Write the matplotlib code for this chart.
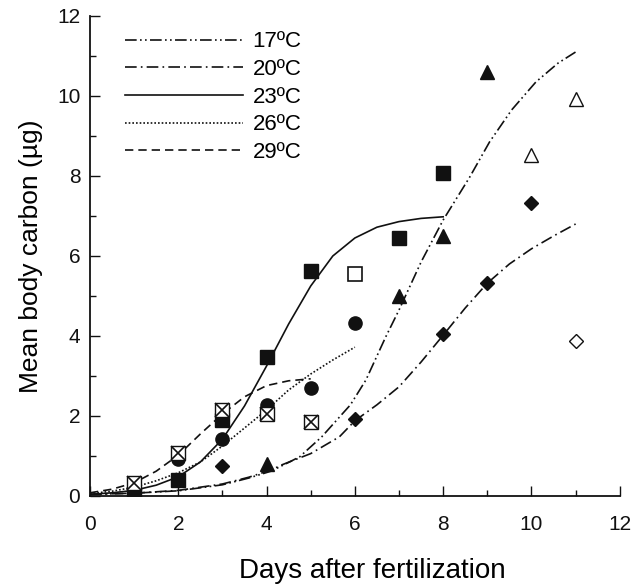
import matplotlib
matplotlib.use("Agg")
import matplotlib.pyplot as plt
from matplotlib.ticker import MultipleLocator

plt.rcParams['font.family'] = ['Liberation Sans', 'DejaVu Sans']

# ---- data ----
# observed points: filled and open markers per temperature
d17_days = [1, 4, 7, 8, 9]
d17_vals = [0.03, 0.80, 5.0, 6.5, 10.6]
d17_open_days = [10, 11]
d17_open_vals = [8.53, 9.92]

d20_days = [1, 3, 6, 8, 9, 10]
d20_vals = [0.03, 0.75, 1.92, 4.05, 5.33, 7.33]
d20_open_days = [11]
d20_open_vals = [3.88]

d23_days = [1, 2, 3, 4, 5, 7, 8]
d23_vals = [0.05, 0.40, 1.90, 3.48, 5.62, 6.45, 8.07]
d23_open_days = [6]
d23_open_vals = [5.55]

d26_days = [1, 2, 3, 4, 5, 6]
d26_vals = [0.15, 0.92, 1.42, 2.28, 2.70, 4.33]

d29_days = [1, 2, 3, 4, 5]
d29_vals = [0.33, 1.08, 2.15, 2.05, 1.85]

# fitted curves
c17_x = [0, 1, 2, 3, 3.6, 4.1, 4.3, 4.75, 5.25, 5.9, 6.25, 6.7, 7.0, 7.5, 8.0, 8.6, 9.05, 9.55, 10.1, 10.6, 11.0]
c17_y = [0.04, 0.07, 0.13, 0.28, 0.45, 0.62, 0.73, 0.98, 1.48, 2.28, 2.9, 3.98, 4.65, 5.85, 6.9, 7.97, 8.85, 9.65, 10.35, 10.82, 11.1]

c20_x = [0, 1, 2, 3, 3.6, 4.1, 4.35, 5.0, 5.65, 6.0, 6.5, 7.0, 7.5, 8.0, 8.5, 9.0, 9.5, 10.0, 10.5, 11.0]
c20_y = [0.04, 0.07, 0.14, 0.30, 0.47, 0.65, 0.78, 1.06, 1.48, 1.88, 2.28, 2.73, 3.35, 4.02, 4.7, 5.32, 5.8, 6.18, 6.5, 6.8]

c23_x = [0, 0.5, 1, 1.5, 2, 2.5, 3, 3.5, 4, 4.5, 5, 5.5, 6, 6.5, 7, 7.5, 8]
c23_y = [0.04, 0.08, 0.14, 0.27, 0.48, 0.85, 1.42, 2.25, 3.25, 4.3, 5.25, 6.0, 6.45, 6.72, 6.86, 6.94, 6.98]

c26_x = [0, 0.5, 1, 1.5, 2, 2.5, 3, 3.5, 4, 4.5, 5, 5.5, 6]
c26_y = [0.06, 0.12, 0.22, 0.38, 0.58, 0.85, 1.25, 1.70, 2.15, 2.65, 3.05, 3.40, 3.72]

c29_x = [0, 0.5, 1, 1.5, 2, 2.5, 3, 3.5, 4, 4.5, 5]
c29_y = [0.08, 0.17, 0.33, 0.62, 1.02, 1.55, 2.05, 2.48, 2.76, 2.88, 2.93]

legend_labels = ['17ºC', '20ºC', '23ºC', '26ºC', '29ºC']

# ---- figure ----
fig = plt.figure(figsize=(6.35, 5.86), dpi=100)
ax = fig.add_axes([0.1417, 0.1536, 0.8343, 0.8191])

k = '#111111'
lw = 1.2
ls17 = (0, (7, 2, 1, 2, 1, 2))
ls20 = (0, (7, 2.5, 1, 2.5))
ls26 = (0, (1, 1.2))
ls29 = (0, (5, 3))

l17, = ax.plot(c17_x, c17_y, color=k, lw=lw, linestyle=ls17)
l20, = ax.plot(c20_x, c20_y, color=k, lw=lw, linestyle=ls20)
l23, = ax.plot(c23_x, c23_y, color=k, lw=lw, linestyle='-')
l26, = ax.plot(c26_x, c26_y, color=k, lw=lw, linestyle=ls26)
l29, = ax.plot(c29_x, c29_y, color=k, lw=lw, linestyle=ls29)

ms = 10
ax.plot(d17_days, d17_vals, '^', color=k, ms=ms, ls='none', zorder=3)
ax.plot(d17_open_days, d17_open_vals, '^', mfc='white', mec=k, mew=1.0, ms=ms, ls='none', zorder=3)
ax.plot(d20_days, d20_vals, 'D', color=k, ms=7.5, ls='none', zorder=3)
ax.plot(d20_open_days, d20_open_vals, 'D', mfc='white', mec=k, mew=1.0, ms=7.5, ls='none', zorder=3)
ax.plot(d23_days, d23_vals, 's', color=k, ms=9.5, ls='none', zorder=3)
ax.plot(d23_open_days, d23_open_vals, 's', mfc='white', mec=k, mew=1.2, ms=9.5, ls='none', zorder=3)
ax.plot(d26_days, d26_vals, 'o', color=k, ms=9.5, ls='none', zorder=3)
ax.plot(d29_days, d29_vals, 's', mfc='white', mec=k, mew=1.0, ms=9.5, ls='none', zorder=4)
ax.plot(d29_days, d29_vals, 'x', color=k, mew=1.2, ms=9.5, ls='none', zorder=5)

ax.legend([l17, l20, l23, l26, l29], legend_labels, loc='upper left',
          bbox_to_anchor=(0.066, 0.968), frameon=False, fontsize=16,
          borderpad=0, borderaxespad=0,
          handlelength=5.3, handletextpad=0.45, labelspacing=0.3)

ax.set_xlim(0, 12)
ax.set_ylim(0, 12)
ax.xaxis.set_major_locator(MultipleLocator(2))
ax.xaxis.set_minor_locator(MultipleLocator(1))
ax.yaxis.set_major_locator(MultipleLocator(2))
ax.yaxis.set_minor_locator(MultipleLocator(1))
ax.tick_params(which='both', direction='in', colors=k, labelsize=15, width=1)
ax.tick_params(which='major', length=7)
ax.tick_params(which='minor', length=4)
ax.tick_params(axis='x', pad=14)
ax.tick_params(axis='y', pad=7)
for s in ['top', 'right']:
    ax.spines[s].set_visible(False)
for s in ['left', 'bottom']:
    ax.spines[s].set_linewidth(1.3)
    ax.spines[s].set_color(k)

ax.set_xlabel('Days after fertilization', fontsize=20, labelpad=14)
ax.xaxis.set_label_coords(0.532, -0.13)
ax.set_ylabel('Mean body carbon (µg)', fontsize=19, labelpad=10)

fig.savefig('out.png', dpi=100)
